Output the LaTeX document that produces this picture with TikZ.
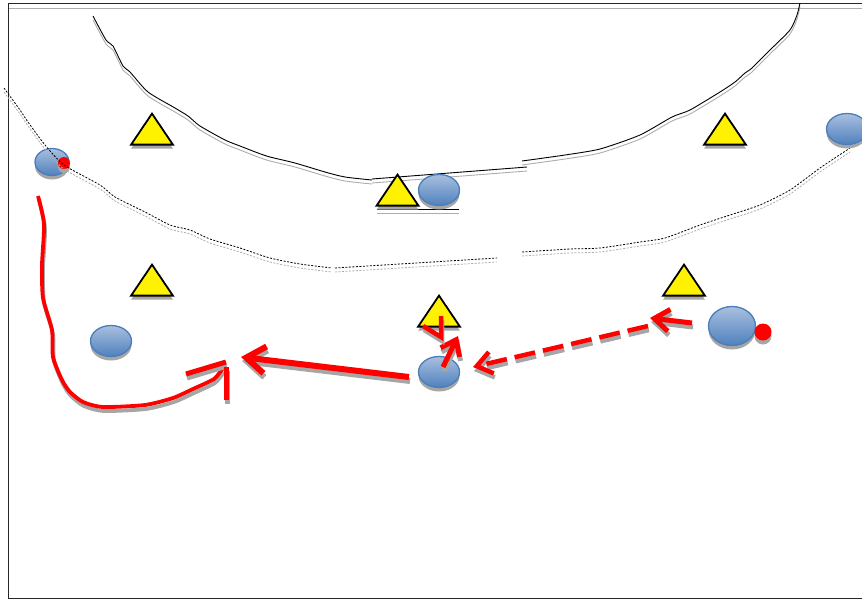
\documentclass[tikz,border=0pt]{standalone}
\usepackage{tikz}
\usetikzlibrary{positioning,shapes.geometric,shadows,arrows.meta}
\definecolor{playertop}{HTML}{A9BFDF}
\definecolor{playerbot}{HTML}{4F81BD}
\definecolor{playerline}{HTML}{4A7EBB}
\begin{document}
\begin{tikzpicture}[x=1pt,y=-1pt,
    flat/.style={drop shadow={shadow xshift=0pt,shadow yshift=-4pt,shadow scale=1,fill=gray!70,opacity=1}},
    cone/.style={isosceles triangle,isosceles triangle apex angle=68,shape border rotate=90,draw=black,line width=1.8pt,fill=yellow,minimum height=31pt,inner sep=0pt,outer sep=0pt,flat},
    player/.style={ellipse,draw=playerline,line width=1.3pt,top color=playertop,bottom color=playerbot,minimum width=41pt,minimum height=31pt,inner sep=0pt,flat},
    ball/.style={circle,fill=red,minimum size=#1,inner sep=0pt,flat},
    track/.style={black,line width=.9pt,preaction={draw=gray!65,line width=.9pt,transform canvas={yshift=-4pt}}},
    dashtrack/.style={black,line width=.8pt,dash pattern=on 2pt off 1.5pt,preaction={draw=gray!65,line width=.8pt,dash pattern=on 2pt off 1.5pt,transform canvas={yshift=-4pt}}},
    move/.style={red,line width=#1,preaction={draw=gray!70,line width=#1,transform canvas={shift={(1pt,-4pt)}}}},
    move/.default=5pt,
    pass/.style={red,line width=4.5pt,dash pattern=on 21pt off 8pt,preaction={draw=gray!70,line width=4.5pt,dash pattern=on 21pt off 8pt,transform canvas={shift={(1pt,-4pt)}}}},
    head/.tip={Straight Barb[length=19pt,width=27pt]}]
    \useasboundingbox (0,0) rectangle (862,598); %
    \draw[line width=1pt,black!85] (862,3.5) -- (8.5,3.5) -- (8.5,598) -- (862,598); %
    \draw[gray!65,line width=.9pt] (9,8) -- (862,8); %
    % touchlines
    \draw[track] plot[smooth,tension=.4] coordinates {(93,16) (106,40) (113,46) (123,66) (130,72) (148,92) (175,108) (188,116) (200,126) (225,140) (240,146) (258,153) (270,157) (295,163) (325,172) (345,177) (372,180)}; %
    \draw[track] (372,179) -- (527,167); %
    \draw[track] plot[smooth,tension=.4] coordinates {(522,161) (565,155) (600,149) (640,135) (672,117) (690,110) (720,92) (735,82) (745,73) (752,68) (770,50) (790,30) (797,15) (800,3)}; %
    \draw[track] (377,209) -- (459,209); %
    % players and cones
    \node[player,minimum width=34pt,minimum height=27pt] (left) at (52,162) {}; %
    \node[ball=12pt] (leftball) at (64,163) {}; %
    \draw[dashtrack] plot[smooth,tension=.4] coordinates {(4,88) (20,110) (28,122) (45,145) (64,165) (100,185) (115,197) (145,212) (170,225) (190,230) (210,239) (240,248) (270,258) (300,264) (332,268)}; %
    \draw[dashtrack] (335,268) -- (497,258); %
    \draw[dashtrack] plot[smooth,tension=.4] coordinates {(522,252) (570,249) (600,248) (640,242) (665,238) (700,225) (730,215) (760,205) (790,190) (820,168) (850,148)}; %
    \node[cone] (cone1) at (152,133.5) {}; %
    \node[cone,below=120pt of cone1] (cone2) {}; %
    \node[cone] (cone3) at (397.5,194.5) {}; %
    \node[cone] (cone4) at (439,315.5) {}; %
    \node[cone] (cone5) at (725,133.5) {}; %
    \node[cone,below=120pt of cone5,xshift=-41pt] (cone6) {}; %
    \node[player] (mid) at (439,190) {}; %
    \node[player] (right) at (847,129) {}; %
    \node[player] (wide) at (111,341) {}; %
    \node[player] (centre) at (439,372) {}; %
    \node[player,minimum width=47pt,minimum height=39pt] (carrier) at (732,326) {}; %
    \node[ball=17pt] (carrierball) at (763,332) {}; %
    % free ends
    \coordinate (runa) at (38,196); %
    \coordinate (runb) at (223,368); %
    \coordinate (barba) at (186,374); %
    \coordinate (barbb) at (226,362); %
    \coordinate (barbc) at (226,400); %
    \coordinate (barbd) at (226,367); %
    \coordinate (longa) at (409,377); %
    \coordinate (longb) at (241,357); %
    \coordinate (passa) at (648,326); %
    \coordinate (passb) at (473,367); %
    \coordinate (shorta) at (692,323); %
    \coordinate (shortb) at (650,318); %
    \coordinate (upa) at (443,367); %
    \coordinate (upb) at (458,336); %
    \coordinate (conea) at (441,316); %
    \coordinate (coneb) at (441,337); %
    \coordinate (conec) at (423,326); %
    % moves
    \draw[move=3.8pt,line join=round] plot[smooth,tension=.4] coordinates {(runa) (44,224) (42,265) (43,298) (52,330) (53,357) (62,380) (70,392) (83,402) (103,407) (145,405) (173,398) (193,389) (214,379) (runb)}; %
    \draw[move] (barba) -- (barbb); %
    \draw[move] (barbc) -- (barbd); %
    \draw[move=6pt,-{head}] (longa) -- (longb); %
    \draw[pass,-{Straight Barb[length=15pt,width=22pt]}] (passa) -- (passb); %
    \draw[move,-{Straight Barb[length=15pt,width=22pt]}] (shorta) -- (shortb); %
    \draw[move,-{Straight Barb[length=14pt,width=21pt]}] (upa) -- (upb); %
    \draw[move=4.5pt,line join=miter] (conea) -- (coneb) -- (conec); %
\end{tikzpicture}
\end{document}
